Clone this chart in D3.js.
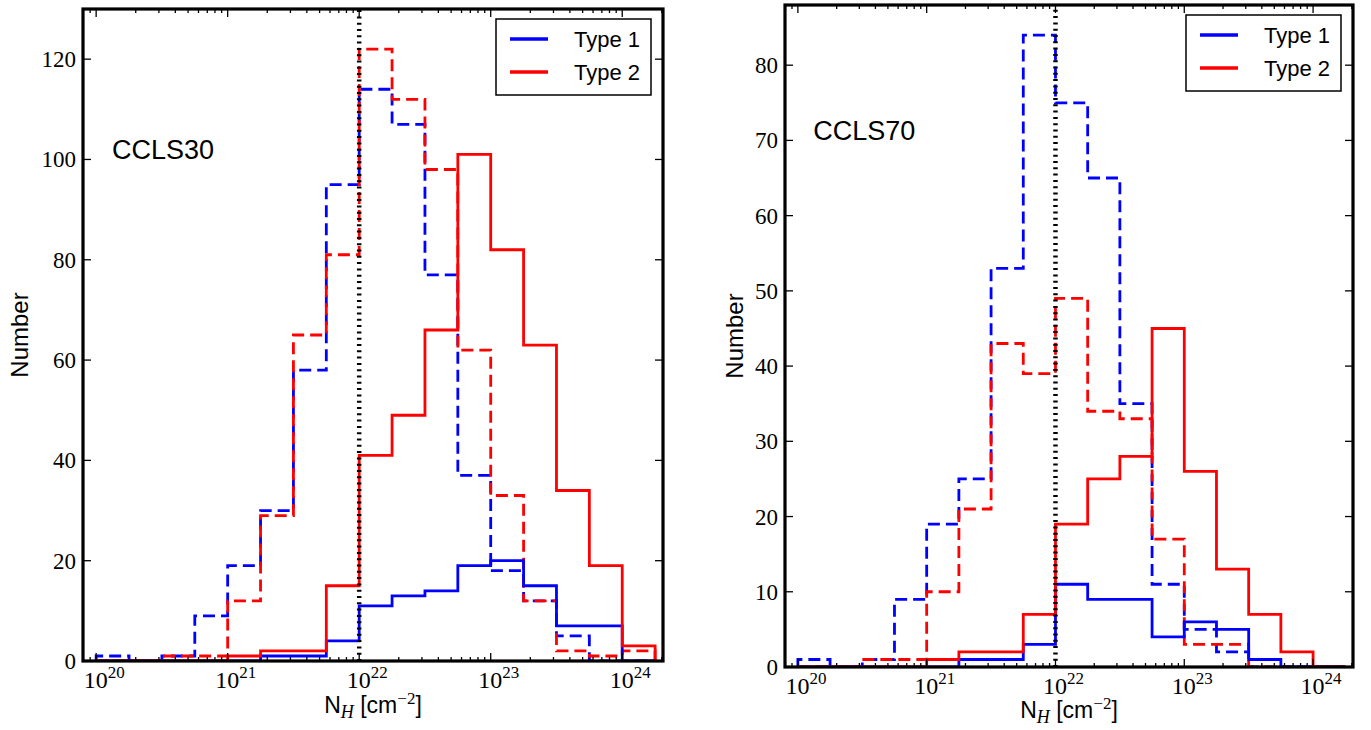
<!DOCTYPE html>
<html>
<head>
<meta charset="utf-8">
<script src="https://cdn.jsdelivr.net/npm/d3@7"></script>
<style>
  body { margin: 0; background: #fff; }
  svg { display: block; }
</style>
</head>
<body>
<svg id="chart" width="1371" height="730"></svg>
<script>

// log10(N_H) bin edges, 0.25 dex wide
const binEdges = [20, 20.25, 20.5, 20.75, 21, 21.25, 21.5, 21.75, 22,
                  22.25, 22.5, 22.75, 23, 23.25, 23.5, 23.75, 24, 24.25];

// CCLS30 counts per bin (dashed = all, solid = second sample)
const ccls30Type1Dashed = [1, 0, 1, 9, 19, 30, 58, 95, 114, 107, 77, 37, 18, 12, 5, 0, 0];
const ccls30Type2Dashed = [0, 0, 1, 1, 12, 29, 65, 81, 122, 112, 98, 62, 33, 12, 2, 1, 2];
const ccls30Type1Solid  = [0, 0, 0, 0, 0, 1, 1, 4, 11, 13, 14, 19, 20, 15, 7, 7, 0];
const ccls30Type2Solid  = [0, 0, 0, 0, 1, 2, 2, 15, 41, 49, 66, 101, 82, 63, 34, 19, 3];

// CCLS70 counts per bin
const ccls70Type1Dashed = [1, 0, 1, 9, 19, 25, 53, 84, 75, 65, 35, 11, 5, 2, 0, 0, 0];
const ccls70Type2Dashed = [0, 0, 1, 1, 10, 21, 43, 39, 49, 34, 33, 17, 3, 3, 0, 0, 0];
const ccls70Type1Solid  = [0, 0, 0, 0, 0, 1, 1, 3, 11, 9, 9, 4, 6, 5, 1, 0, 0];
const ccls70Type2Solid  = [0, 0, 0, 0, 1, 2, 2, 7, 19, 25, 28, 45, 26, 13, 7, 2, 0];

const xMajorExps = [20, 21, 22, 23, 24];
const ccls30YTicks = [0, 20, 40, 60, 80, 100, 120];
const ccls70YTicks = [0, 10, 20, 30, 40, 50, 60, 70, 80];
const legendLabels = ["Type 1", "Type 2"];
const cutLine = 22;   // vertical dotted line, log10 N_H

const BLUE = "#0000ff", RED = "#ff0000";

const svg = d3.select("#chart");
svg.append("rect").attr("width", 1371).attr("height", 730).attr("fill", "#fff");

const panels = [
  { id: "p30", name: "CCLS30", left: 83, top: 9, right: 663, bottom: 661,
    yMax: 130, yTicks: ccls30YTicks, labelAt: [20.12, 100],
    series: [ccls30Type1Dashed, ccls30Type2Dashed, ccls30Type1Solid, ccls30Type2Solid],
    ylabX: 28, xlabY: 713, tickLabY: 688 },
  { id: "p70", name: "CCLS70", left: 785, top: 5, right: 1353, bottom: 667,
    yMax: 88, yTicks: ccls70YTicks, labelAt: [20.12, 70],
    series: [ccls70Type1Dashed, ccls70Type2Dashed, ccls70Type1Solid, ccls70Type2Solid],
    ylabX: 743, xlabY: 718, tickLabY: 694 }
];

const styles = [
  { color: BLUE, dash: "12,6" },
  { color: RED,  dash: "12,6" },
  { color: BLUE, dash: null },
  { color: RED,  dash: null }
];

panels.forEach(p => {
  const x = d3.scaleLog().domain([Math.pow(10, 19.9), Math.pow(10, 24.31)]).range([p.left, p.right]);
  const y = d3.scaleLinear().domain([0, p.yMax]).range([p.bottom, p.top]);
  const g = svg.append("g");

  g.append("clipPath").attr("id", "clip-" + p.id)
    .append("rect")
    .attr("x", p.left).attr("y", p.top)
    .attr("width", p.right - p.left).attr("height", p.bottom - p.top);

  const plot = g.append("g").attr("clip-path", "url(#clip-" + p.id + ")");

  // step outline like a histtype='step' histogram
  const line = d3.line().x(d => x(Math.pow(10, d[0]))).y(d => y(d[1]));
  function stepPoints(counts) {
    const pts = [[binEdges[0], 0]];
    counts.forEach((c, i) => {
      pts.push([binEdges[i], c]);
      pts.push([binEdges[i + 1], c]);
    });
    pts.push([binEdges[counts.length], 0]);
    return pts;
  }

  p.series.forEach((s, i) => {
    plot.append("path")
      .attr("d", line(stepPoints(s)))
      .attr("fill", "none")
      .attr("stroke", styles[i].color)
      .attr("stroke-width", 2.8)
      .attr("stroke-dasharray", styles[i].dash)
      .attr("stroke-linejoin", "miter");
  });

  // dotted cut line
  plot.append("line")
    .attr("x1", x(Math.pow(10, cutLine))).attr("x2", x(Math.pow(10, cutLine)))
    .attr("y1", p.bottom).attr("y2", p.top)
    .attr("stroke", "#000").attr("stroke-width", 4.5)
    .attr("stroke-dasharray", "2,4.3");

  // ticks (inside, all four sides)
  const tickG = g.append("g").attr("stroke", "#000").attr("stroke-width", 1.3);
  const minor = [];
  for (let e = 19; e <= 24; e++) {
    for (let m = 2; m <= 9; m++) {
      const v = m * Math.pow(10, e);
      if (v >= x.domain()[0] && v <= x.domain()[1]) minor.push(v);
    }
  }
  minor.forEach(v => {
    tickG.append("line").attr("x1", x(v)).attr("x2", x(v)).attr("y1", p.bottom).attr("y2", p.bottom - 4);
    tickG.append("line").attr("x1", x(v)).attr("x2", x(v)).attr("y1", p.top).attr("y2", p.top + 4);
  });
  xMajorExps.forEach(e => {
    const xv = x(Math.pow(10, e));
    tickG.append("line").attr("x1", xv).attr("x2", xv).attr("y1", p.bottom).attr("y2", p.bottom - 8);
    tickG.append("line").attr("x1", xv).attr("x2", xv).attr("y1", p.top).attr("y2", p.top + 8);
  });
  p.yTicks.forEach(t => {
    tickG.append("line").attr("x1", p.left).attr("x2", p.left + 8).attr("y1", y(t)).attr("y2", y(t));
    tickG.append("line").attr("x1", p.right).attr("x2", p.right - 8).attr("y1", y(t)).attr("y2", y(t));
  });

  // tick labels
  p.yTicks.forEach(t => {
    g.append("text")
      .attr("x", p.left - 7).attr("y", y(t) + 8)
      .attr("text-anchor", "end")
      .attr("font-family", "Liberation Serif, serif").attr("font-size", 23)
      .text(t);
  });
  xMajorExps.forEach(e => {
    const t = g.append("text")
      .attr("x", x(Math.pow(10, e)) + 8).attr("y", p.tickLabY)
      .attr("text-anchor", "middle")
      .attr("font-family", "Liberation Serif, serif").attr("font-size", 24);
    t.append("tspan").text("10");
    t.append("tspan").attr("dy", -10).attr("font-size", 17).text(e);
  });

  // frame
  g.append("rect")
    .attr("x", p.left).attr("y", p.top)
    .attr("width", p.right - p.left).attr("height", p.bottom - p.top)
    .attr("fill", "none").attr("stroke", "#000").attr("stroke-width", 3.2);

  // axis labels
  g.append("text")
    .attr("transform", "translate(" + p.ylabX + "," + ((p.top + p.bottom) / 2) + ") rotate(-90)")
    .attr("text-anchor", "middle")
    .attr("font-family", "Liberation Sans, Arial, sans-serif").attr("font-size", 24)
    .text("Number");

  const xl = g.append("text")
    .attr("x", (p.left + p.right) / 2).attr("y", p.xlabY)
    .attr("text-anchor", "middle")
    .attr("font-family", "Liberation Sans, Arial, sans-serif").attr("font-size", 23);
  xl.append("tspan").text("N");
  xl.append("tspan").attr("dy", 5).attr("font-family", "Liberation Serif, serif")
    .attr("font-style", "italic").attr("font-size", 18).text("H");
  xl.append("tspan").attr("dy", -5).text(" [cm");
  xl.append("tspan").attr("dy", -9).attr("font-family", "Liberation Serif, serif")
    .attr("font-size", 17).text("\u22122");
  xl.append("tspan").attr("dy", 9).text("]");

  // sample name
  g.append("text")
    .attr("x", x(Math.pow(10, p.labelAt[0]))).attr("y", y(p.labelAt[1]))
    .attr("font-family", "Liberation Sans, Arial, sans-serif").attr("font-size", 27)
    .text(p.name);

  // legend
  const lw = 155, lh = 76;
  const lx = p.right - 12 - lw, ly = p.top + 10;
  const leg = g.append("g");
  leg.append("rect").attr("x", lx).attr("y", ly).attr("width", lw).attr("height", lh)
    .attr("fill", "#fff").attr("stroke", "#000").attr("stroke-width", 1.5);
  legendLabels.forEach((lab, i) => {
    const ry = ly + 20 + i * 33;
    leg.append("line").attr("x1", lx + 14).attr("x2", lx + 52)
      .attr("y1", ry).attr("y2", ry)
      .attr("stroke", i === 0 ? BLUE : RED).attr("stroke-width", 3.5);
    leg.append("text").attr("x", lx + 78).attr("y", ry + 8)
      .attr("font-family", "Liberation Sans, Arial, sans-serif").attr("font-size", 22)
      .text(lab);
  });
});

</script>
</body>
</html>
